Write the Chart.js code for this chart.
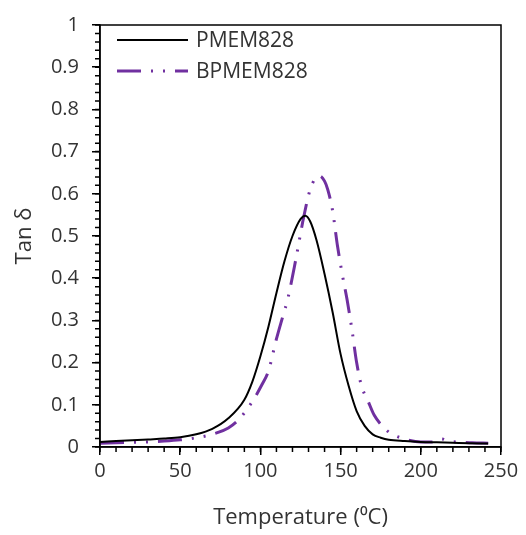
<!DOCTYPE html>
<html lang="en">
<head>
  <meta charset="UTF-8" />
  <title>Tan delta vs temperature</title>
  <script src="https://cdn.jsdelivr.net/npm/chart.js"></script>
  <style>
    html, body { margin: 0; padding: 0; background: #fff; }
    #wrap { width: 526px; height: 535px; }
  </style>
</head>
<body>
  <div id="wrap"><canvas id="tanChart" width="526" height="535"></canvas></div>

  <script>
    // PMEM828 (solid black)
    const pmemTemp = [0, 10, 20, 30, 40, 50, 60, 70, 80, 90, 95, 100, 105, 110, 115, 120, 125, 128, 131, 135, 140, 145, 150, 155, 160, 165, 170, 175, 180, 190, 200, 210, 220, 230, 242];
    const pmemTan = [0.012, 0.014, 0.016, 0.018, 0.020, 0.023, 0.030, 0.043, 0.068, 0.112, 0.155, 0.215, 0.285, 0.365, 0.44, 0.50, 0.54, 0.548, 0.535, 0.49, 0.41, 0.32, 0.22, 0.145, 0.085, 0.05, 0.03, 0.022, 0.017, 0.014, 0.012, 0.011, 0.010, 0.009, 0.008];

    // BPMEM828 (purple dash-dot-dot)
    const bpmemTemp = [0, 10, 20, 30, 40, 50, 60, 70, 80, 87, 95, 101, 105, 110, 114, 117, 122, 127, 131, 134, 137, 140, 142, 145, 148, 151, 154, 157, 160, 163, 167, 171, 176, 181, 190, 200, 207, 213, 218, 223, 232, 242];
    const bpmemTan = [0.009, 0.010, 0.011, 0.012, 0.014, 0.017, 0.022, 0.030, 0.045, 0.067, 0.108, 0.148, 0.18, 0.256, 0.31, 0.35, 0.443, 0.545, 0.61, 0.635, 0.642, 0.63, 0.61, 0.56, 0.478, 0.41, 0.35, 0.28, 0.20, 0.145, 0.11, 0.075, 0.05, 0.033, 0.019, 0.012, 0.012, 0.019, 0.013, 0.012, 0.010, 0.009];

    const seriesNames = ['PMEM828', 'BPMEM828'];
    const xTicks = [0, 50, 100, 150, 200, 250];
    const yTicks = [0, 0.1, 0.2, 0.3, 0.4, 0.5, 0.6, 0.7, 0.8, 0.9, 1];

    const FONT = "'Open Sans', 'Liberation Sans', sans-serif";
    const TEXT = '#333';
    const purple = '#7030a0';

    const toPoints = (xs, ys) => xs.map((x, i) => ({ x, y: ys[i] }));

    // frame, minor ticks and in-plot legend
    const framePlugin = {
      id: 'frame',
      afterDraw(chart) {
        const { ctx, chartArea: a, scales } = chart;
        ctx.save();
        ctx.strokeStyle = '#000';
        ctx.lineWidth = 1.5;
        ctx.strokeRect(a.left, a.top, a.right - a.left, a.bottom - a.top);

        // minor ticks
        ctx.beginPath();
        for (let v = 0; v <= 250; v += 10) {
          const px = scales.x.getPixelForValue(v);
          ctx.moveTo(px, a.bottom);
          ctx.lineTo(px, a.bottom + 5);
        }
        for (let v = 0; v <= 1.0001; v += 0.02) {
          const py = scales.y.getPixelForValue(v);
          ctx.moveTo(a.left, py);
          ctx.lineTo(a.left - 5, py);
        }
        ctx.stroke();

        // legend
        const rows = [40, 71];
        chart.data.datasets.forEach((d, i) => {
          ctx.beginPath();
          ctx.strokeStyle = d.borderColor;
          ctx.lineWidth = d.borderWidth;
          ctx.setLineDash(d.borderDash || []);
          ctx.moveTo(117, rows[i]);
          ctx.lineTo(188, rows[i]);
          ctx.stroke();
          ctx.setLineDash([]);
          ctx.fillStyle = TEXT;
          ctx.font = '21px ' + FONT;
          ctx.textBaseline = 'middle';
          ctx.fillText(d.label, 196, rows[i] + 1);
        });
        ctx.restore();
      }
    };

    new Chart(document.getElementById('tanChart'), {
      type: 'line',
      data: {
        datasets: [
          {
            label: seriesNames[0],
            data: toPoints(pmemTemp, pmemTan),
            borderColor: '#000',
            borderWidth: 2,
            pointRadius: 0,
            cubicInterpolationMode: 'monotone'
          },
          {
            label: seriesNames[1],
            data: toPoints(bpmemTemp, bpmemTan),
            borderColor: purple,
            borderWidth: 3,
            borderDash: [24, 10, 2, 10, 2, 10],
            pointRadius: 0,
            cubicInterpolationMode: 'monotone'
          }
        ]
      },
      options: {
        responsive: false,
        animation: false,
        layout: { padding: { top: 18, right: 25, left: 0, bottom: 0 } },
        plugins: {
          legend: { display: false },
          tooltip: { enabled: false }
        },
        scales: {
          x: {
            type: 'linear',
            min: 0,
            max: 250,
            afterBuildTicks: s => { s.ticks = xTicks.map(v => ({ value: v })); },
            afterFit: s => { s.height = 88; },
            ticks: { color: TEXT, font: { family: FONT, size: 20 }, padding: 4, maxRotation: 0 },
            grid: { drawOnChartArea: false, tickLength: 8, color: '#000', lineWidth: 1.5 },
            border: { color: '#000', width: 1.5 },
            title: {
              display: true,
              text: 'Temperature (⁰C)',
              color: TEXT,
              font: { family: FONT, size: 22 },
              padding: { top: 4 }
            }
          },
          y: {
            min: 0,
            max: 1,
            afterBuildTicks: s => { s.ticks = yTicks.map(v => ({ value: v })); },
            afterFit: s => { s.width = 100; },
            ticks: {
              color: TEXT,
              font: { family: FONT, size: 20 },
              padding: 13,
              callback: v => String(+v.toFixed(1))
            },
            grid: { drawOnChartArea: false, tickLength: 8, color: '#000', lineWidth: 1.5 },
            border: { color: '#000', width: 1.5 },
            title: {
              display: true,
              text: 'Tan δ',
              color: TEXT,
              font: { family: FONT, size: 22 },
              padding: { top: 12, bottom: 0 }
            }
          }
        }
      },
      plugins: [framePlugin]
    });
  </script>
</body>
</html>
